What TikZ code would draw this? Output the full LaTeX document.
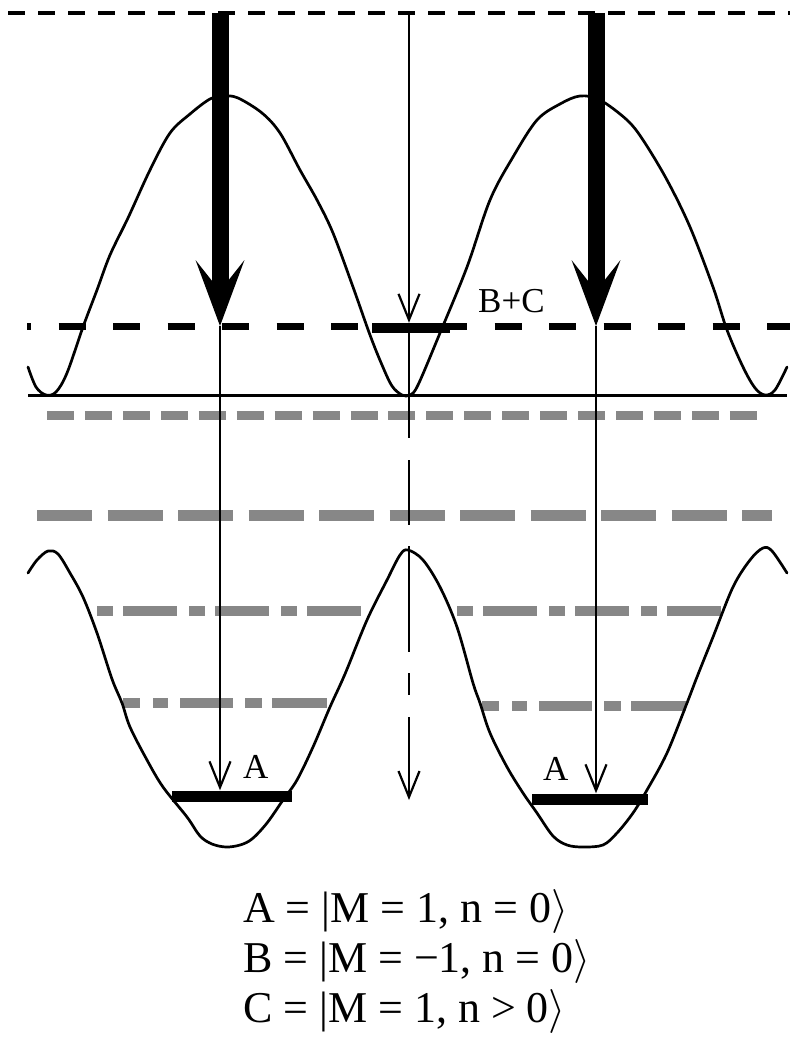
\RequirePackage{fix-cm}
\documentclass[tikz,border=0pt]{standalone}
\usepackage{fontspec}
\setmainfont{Liberation Serif}
\usetikzlibrary{arrows.meta}
\definecolor{hatch}{RGB}{135,135,135}
\tikzset{
  curve/.style={line width=2.7pt, line join=round, line cap=round},
  thickarrow/.style={line width=17pt, -{Stealth[length=66pt,width=49pt,inset=31pt,line width=0pt]}},
  thinarrow/.style={line width=2.2pt, -{Straight Barb[length=26pt,width=21pt,line width=2.2pt]}},
  levelbar/.style={fill=black, draw=none, inner sep=0pt, minimum height=11pt},
  graydash/.style={draw=hatch, line width=10pt},
  lbl/.style={inner sep=0pt, anchor=base west, font=\fontsize{35}{40}\selectfont},
  eqn/.style={inner sep=0pt, anchor=base west, font=\fontsize{44}{50}\selectfont}
}
\begin{document}
\begin{tikzpicture}[x=1pt,y=-1pt]
\useasboundingbox (0,0) rectangle (790,1051);

% gray (hatched) dashed levels
\draw[graydash, line width=9pt, dash pattern=on 27pt off 10.94pt] (47,415) -- (757,415);
\draw[graydash, line width=11pt, dash pattern=on 55pt off 15.5pt] (37,515) -- (772,515);
\draw[graydash, dash pattern=on 16pt off 10pt on 54pt off 12pt] (97,611) -- (361,611);
\draw[graydash, dash pattern=on 16pt off 10pt on 54pt off 12pt] (457,611) -- (721,611);
\draw[graydash, dash pattern=on 17pt off 13pt on 15pt off 12pt on 53pt off 12pt on 17pt off 10pt on 55pt off 100pt] (123,703) -- (327,703);
\draw[graydash, dash pattern=on 17pt off 13pt on 15pt off 12pt on 53pt off 12pt on 17pt off 10pt on 55pt off 100pt] (482,706) -- (686,706);

% top dashed line
\draw[line width=4pt, dash pattern=on 17pt off 13pt] (8,13) -- (790,13);
% B+C dashed level
\draw[line width=7pt, dash pattern=on 27pt off 27.5pt, dash phase=23pt] (27,326) -- (790,326);
% baseline
\draw[line width=3pt] (28,395) -- (787,395);

% upper potential
\draw[curve] plot[smooth, tension=0.55] coordinates {
(28,367) (36,387) (46,395) (56,392) (67,373) (83,327) (97,290) (110,255) (128,218)
(150,170) (170,133) (190,114) (210,99) (224,96) (238,98) (262,113) (280,133)
(300,170) (317,200) (333,233) (353,287) (370,335) (382,365) (392,386) (402,395)
(410,395) (418,385) (440,333) (467,267) (490,200) (513,157) (537,120) (560,104)
(580,96) (600,100) (627,120) (643,140) (667,180) (690,227) (713,287) (727,330)
(743,367) (755,388) (765,395) (775,390) (787,367)};

% lower potential
\draw[curve] plot[smooth, tension=0.55] coordinates {
(28,573) (37,560) (48,551) (58,554) (70,573) (83,597) (97,633) (112,679)
(122,703) (130,727) (147,760) (163,787) (187,817) (200,836) (212,844)
(226,847) (240,845) (252,839) (267,823) (283,800) (297,780) (313,747) (330,707)
(345,674) (367,620) (387,580) (400,555) (408,550) (423,560) (440,587) (457,627)
(473,683) (480,703) (490,733) (507,767) (523,793) (537,813) (553,836)
(567,845) (583,847) (603,845) (617,833) (633,813) (647,790) (667,753) (687,703)
(697,677) (713,637) (733,587) (750,560) (763,548) (772,551) (787,573)};

% level bars
\node[levelbar, minimum width=120pt] (barL) at (232,796) {};
\node[levelbar, minimum width=116pt] (barR) at (590,799) {};
\node[levelbar, minimum width=78pt, minimum height=10pt] (barBC) at (411,328) {};

% coordinates
\coordinate (tA) at (220,13);
\coordinate (tB) at (409,13);
\coordinate (tC) at (596,13);
\coordinate (hA) at (220,326);
\coordinate (hC) at (596,326);
\coordinate (mid0) at (409,395);
\coordinate (midEnd) at (409,800);

% thick arrows
\draw[thickarrow] (tA) -- (hA);
\draw[thickarrow] (tC) -- (hC);
% thin arrows down to A
\draw[thinarrow] (hA) -- (hA |- barL.north);
\draw[thinarrow] (hC) -- (hC |- barR.north);
% middle arrow
\draw[thinarrow] (tB) -- (tB |- barBC.north);
\draw[line width=2.2pt] (tB |- barBC.south) -- (mid0);
\draw[thinarrow, dash pattern=on 43pt off 22pt on 65pt off 21pt on 106pt off 21pt on 22pt off 22pt on 120pt off 10pt] (mid0) -- (midEnd);

% labels
\node[lbl] (lBC) at (478,312) {B+C};
\node[lbl] (lA1) at (243,778) {A};
\node[lbl] (lA2) at (543,780) {A};

\node[eqn] (eA) at (243,922) {A = |M = 1, n = 0$\rangle$};
\node[eqn] (eB) at (243,972) {B = |M = −1, n = 0$\rangle$};
\node[eqn] (eC) at (243,1022) {C = |M = 1, n > 0$\rangle$};
\end{tikzpicture}
\end{document}
